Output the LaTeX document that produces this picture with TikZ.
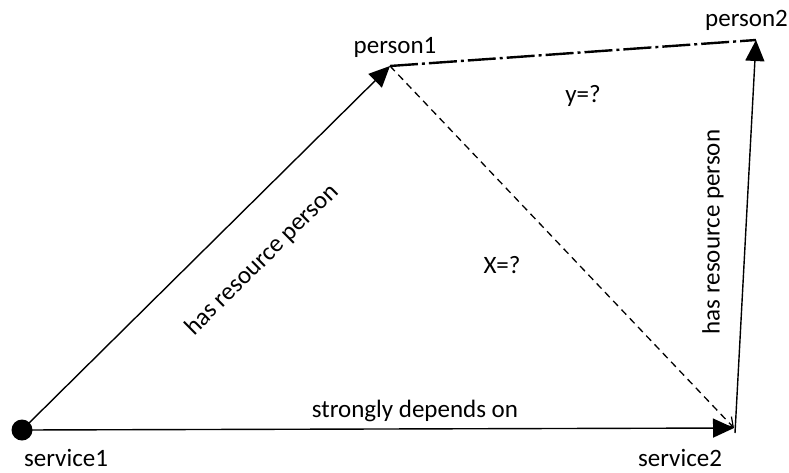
\documentclass[tikz,border=0pt]{standalone}
\usepackage{fontspec}
\setmainfont{Carlito}
\usetikzlibrary{arrows.meta}
\begin{document}
\begin{tikzpicture}[x=1pt,y=-1pt,
  lbl/.style={font=\fontsize{25}{28}\selectfont, inner sep=0pt},
  solidarrow/.style={line width=1.4pt, -{Triangle[length=21pt,width=19pt]}},
  dasharrow/.style={line width=1.3pt, dash pattern=on 7pt off 5pt, -{Straight Barb[length=9pt,width=12pt,line width=1.2pt]}},
  dashdotline/.style={line width=2.4pt, dash pattern=on 28pt off 4pt on 3pt off 4pt}]
\useasboundingbox (0,0) rectangle (789,472);
\coordinate (s1) at (22,430);
\coordinate (p1) at (390,66);
\coordinate (p2) at (756,40);
\coordinate (s2) at (734,428);
\coordinate (s2b) at (735,433);
\fill (s1) circle (10.5pt);
\draw[solidarrow] (s1) -- (s2);
\draw[solidarrow] (s1) -- (p1);
\draw[solidarrow] (s2b) -- (p2);
\draw[dasharrow] (p1) -- (s2);
\draw[dashdotline] (p1) -- (p2);
\node[lbl] (ls1) at (66,458) {service1};
\node[lbl] (ls2) at (680,458) {service2};
\node[lbl] (lp1) at (395,47) {person1};
\node[lbl,anchor=east] (lp2) at (788,20) {person2};
\node[lbl] (ly) at (583,96) {y=?};
\node[lbl] (lx) at (502,265) {X=?};
\node[lbl] (lsd) at (415,411) {strongly depends on};
\node[lbl,rotate=44.7] (lhr1) at (262,260) {has resource person};
\node[lbl,rotate=90] (lhr2) at (713,232) {has resource person};
\end{tikzpicture}
\end{document}
